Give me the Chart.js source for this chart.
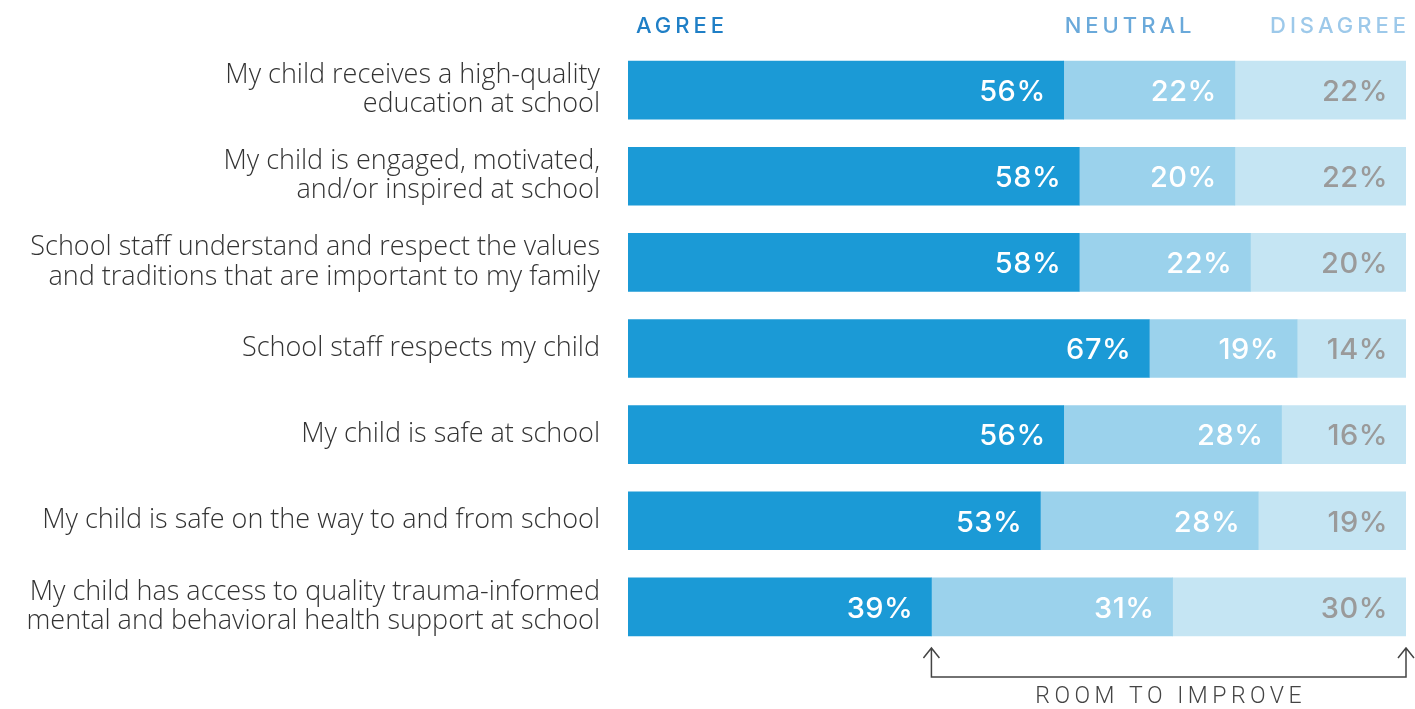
<!DOCTYPE html>
<html lang="en">
    <head>
        <meta charset="utf-8" />
        <script src="https://cdn.jsdelivr.net/npm/chart.js@4.4.1/dist/chart.umd.min.js"></script>
        <title>Room to improve</title>
        <style>
            html, body { margin: 0; padding: 0; background: #fff; }
            #wrap { width: 1415px; height: 709px; position: relative; }
        </style>
    </head>
    <body>
        <div id="wrap"><canvas id="survey"></canvas></div>
        <script>
            // survey statements (multi-line where the original wraps)
            const categories = [
                ["My child receives a high-quality", "education at school"],
                ["My child is engaged, motivated,", "and/or inspired at school"],
                ["School staff understand and respect the values", "and traditions that are important to my family"],
                "School staff respects my child",
                "My child is safe at school",
                "My child is safe on the way to and from school",
                ["My child has access to quality trauma-informed", "mental and behavioral health support at school"]
            ];
            const seriesNames = ["AGREE", "NEUTRAL", "DISAGREE"];
            const agree = [56, 58, 58, 67, 56, 53, 39];
            const neutral = [22, 20, 22, 19, 28, 28, 31];
            const disagree = [22, 22, 20, 14, 16, 19, 30];
            const bracketLabel = "ROOM TO IMPROVE";

            const barColors = ["#1b9ad6", "#9bd2ec", "#c5e5f3"];
            const headColors = ["#1f7fc6", "#6aa9da", "#9dc9ea"];
            const valueColors = ["#ffffff", "#ffffff", "#9a9a9a"];

            // percentage labels inside each bar piece, right aligned
            const valueLabels = {
                id: "valueLabels",
                afterDatasetsDraw(chart) {
                    const ctx = chart.ctx;
                    ctx.save();
                    ctx.font = "500 29px Inter";
                    ctx.letterSpacing = "0.5px";
                    ctx.textAlign = "right";
                    ctx.textBaseline = "middle";
                    chart.data.datasets.forEach((ds, i) => {
                        chart.getDatasetMeta(i).data.forEach((bar, j) => {
                            ctx.fillStyle = valueColors[i];
                            ctx.fillText(ds.data[j] + "%", bar.x - 18, bar.y + 2);
                        });
                    });
                    ctx.restore();
                }
            };

            // column headers and the "room to improve" bracket
            const extras = {
                id: "extras",
                afterDraw(chart) {
                    const ctx = chart.ctx;
                    const x = chart.scales.x;
                    const area = chart.chartArea;
                    ctx.save();
                    ctx.font = "500 22px Inter";
                    ctx.letterSpacing = "4px";
                    ctx.textBaseline = "middle";
                    ctx.fillStyle = headColors[0];
                    ctx.textAlign = "left";
                    ctx.fillText(seriesNames[0], area.left + 8, 26);
                    ctx.fillStyle = headColors[1];
                    ctx.fillText(seriesNames[1], x.getPixelForValue(56) + 1, 26);
                    ctx.fillStyle = headColors[2];
                    ctx.textAlign = "right";
                    ctx.fillText(seriesNames[2], area.right + 4, 26);

                    // bracket from end of last agree bar to the right edge
                    const last = agree.length - 1;
                    const x1 = x.getPixelForValue(agree[last]);
                    const x2 = x.getPixelForValue(100);
                    const top = area.bottom - 2;
                    const base = area.bottom + 27;
                    ctx.strokeStyle = "#444";
                    ctx.lineWidth = 1.5;
                    ctx.beginPath();
                    ctx.moveTo(x1, top); ctx.lineTo(x1, base); ctx.lineTo(x2, base); ctx.lineTo(x2, top);
                    [x1, x2].forEach(ax => {
                        ctx.moveTo(ax - 8, top + 10); ctx.lineTo(ax, top); ctx.lineTo(ax + 8, top + 10);
                    });
                    ctx.stroke();

                    ctx.fillStyle = "#444";
                    ctx.font = "300 23px Roboto";
                    ctx.letterSpacing = "4.5px";
                    ctx.textAlign = "center";
                    ctx.fillText(bracketLabel, (x1 + x2) / 2 + 2, area.bottom + 47);
                    ctx.restore();
                }
            };

            new Chart(document.getElementById("survey"), {
                type: "bar",
                data: {
                    labels: categories,
                    datasets: [agree, neutral, disagree].map((d, i) => ({
                        label: seriesNames[i],
                        data: d,
                        backgroundColor: barColors[i],
                        borderWidth: 0,
                        barThickness: 58
                    }))
                },
                options: {
                    indexAxis: "y",
                    responsive: true,
                    maintainAspectRatio: false,
                    animation: false,
                    layout: { padding: { top: 47, right: 9, bottom: 59, left: 0 } },
                    plugins: {
                        legend: { display: false },
                        tooltip: { enabled: false }
                    },
                    scales: {
                        x: { stacked: true, min: 0, max: 100, display: false },
                        y: {
                            stacked: true,
                            grid: { display: false },
                            border: { display: false },
                            ticks: {
                                color: "#333",
                                padding: 20,
                                font: { family: "Open Sans", weight: "300", size: 27, lineHeight: 1.08 }
                            },
                            afterFit(scale) {
                                scale.width = 628;
                                scale.paddingTop = 0;
                                scale.paddingBottom = 0;
                            }
                        }
                    }
                },
                plugins: [valueLabels, extras]
            });
        </script>
    </body>
</html>
